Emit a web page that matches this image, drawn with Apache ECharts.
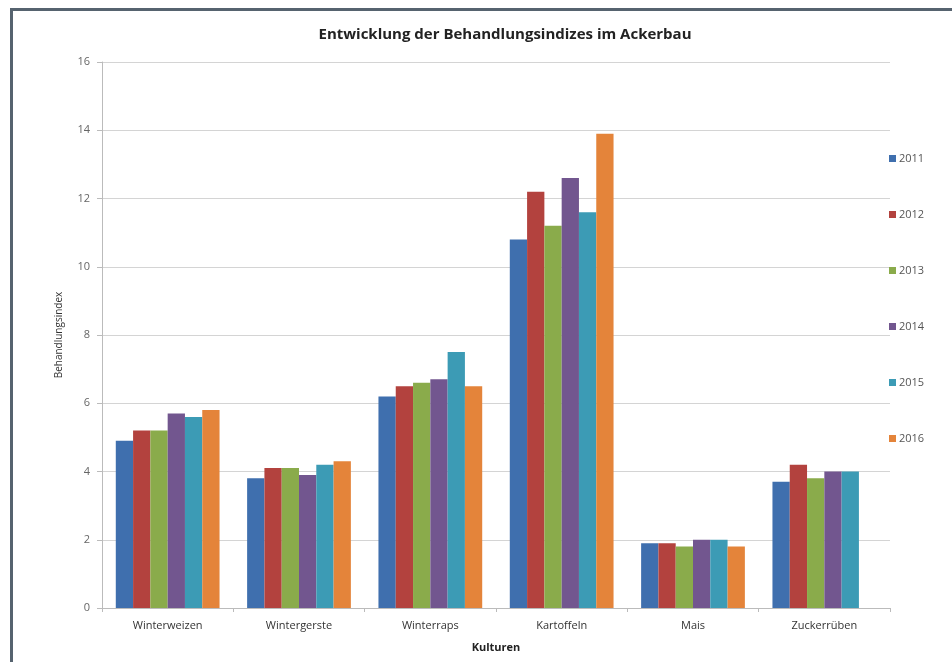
<!DOCTYPE html>
<html>
<head>
<meta charset="utf-8">
<script src="https://cdn.jsdelivr.net/npm/echarts@6/dist/echarts.min.js"></script>
<style>
html,body{margin:0;padding:0;background:#fff;}
#chart{width:952px;height:662px;}
</style>
</head>
<body>
<div id="chart"></div>
<script>
var kulturen = ["Winterweizen","Wintergerste","Winterraps","Kartoffeln","Mais","Zuckerrüben"];
var jahre = ["2011","2012","2013","2014","2015","2016"];
var farben = ["#3f6fae","#b3423e","#8aab4b","#72568f","#3c9bb5","#e4843a"];
var werte2011 = [4.9, 3.8, 6.2, 10.8, 1.9, 3.7];
var werte2012 = [5.2, 4.1, 6.5, 12.2, 1.9, 4.2];
var werte2013 = [5.2, 4.1, 6.6, 11.2, 1.8, 3.8];
var werte2014 = [5.7, 3.9, 6.7, 12.6, 2.0, 4.0];
var werte2015 = [5.6, 4.2, 7.5, 11.6, 2.0, 4.0];
var werte2016 = [5.8, 4.3, 6.5, 13.9, 1.8, null];
var alleWerte = [werte2011, werte2012, werte2013, werte2014, werte2015, werte2016];

var font = "'Open Sans', 'DejaVu Sans', sans-serif";
var chart = echarts.init(document.getElementById("chart"));

var series = [];
for(var i=0;i<jahre.length;i++){
	series.push({
		name: jahre[i],
		type: "bar",
		data: alleWerte[i],
		barGap: "0%",
		barCategoryGap: "21%",
		itemStyle: {color: farben[i]}
	});
}

var option = {
	animation: false,
	backgroundColor: "#fff",
	graphic: [{
		type: "rect",
		left: 9, top: 7,
		shape: {width: 960, height: 680},
		style: {fill: "none", stroke: "#56636f", lineWidth: 3},
		z: 100
	}],
	title: {
		text: "Entwicklung der Behandlungsindizes im Ackerbau",
		left: 500, top: 22, textAlign: "center",
		textStyle: {fontFamily: font, fontSize: 15, fontWeight: "bold", color: "#222"}
	},
	legend: {
		orient: "vertical",
		left: 884, top: 148,
		itemWidth: 7, itemHeight: 7,
		itemGap: 45,
		icon: "rect",
		data: jahre,
		textStyle: {fontFamily: font, fontSize: 11, color: "#555", padding: [0,0,0,-2]}
	},
	grid: {left: 102, right: 62, top: 62, bottom: 54},
	xAxis: {
		type: "category",
		data: kulturen,
		name: "Kulturen",
		nameLocation: "middle",
		nameGap: 34,
		nameTextStyle: {fontFamily: font, fontSize: 11, fontWeight: "bold", color: "#222"},
		axisLine: {lineStyle: {color: "#bbb"}},
		axisTick: {show: true, length: 4, lineStyle: {color: "#bbb"}},
		axisLabel: {fontFamily: font, fontSize: 11, color: "#333", margin: 12}
	},
	yAxis: {
		type: "value",
		min: 0, max: 16, interval: 2,
		name: "Behandlungsindex",
		nameLocation: "middle",
		nameGap: 38,
		nameTextStyle: {fontFamily: font, fontSize: 10, color: "#333"},
		axisLine: {show: true, lineStyle: {color: "#bbb"}},
		axisTick: {show: true, length: 5, lineStyle: {color: "#bbb"}},
		axisLabel: {fontFamily: font, fontSize: 11, color: "#666", margin: 12},
		splitLine: {lineStyle: {color: "#d4d4d4"}}
	},
	series: series
};
chart.setOption(option);
</script>
</body>
</html>
